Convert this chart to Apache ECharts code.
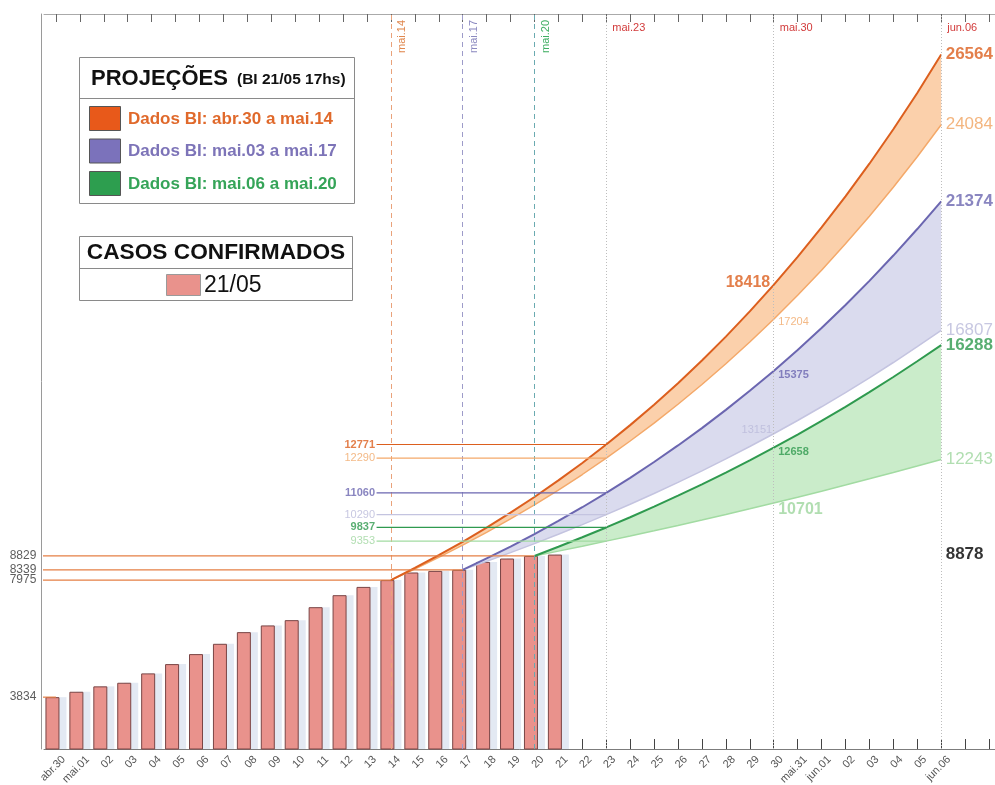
<!DOCTYPE html>
<html><head><meta charset="utf-8">
<script src="https://cdn.jsdelivr.net/npm/echarts@6/dist/echarts.min.js"></script>
<style>html,body{margin:0;padding:0;background:#fff}#c{width:995px;height:785px}</style>
</head><body><div id="c"></div>
<script>
// ---------------- DATA ----------------
const categories = ['abr.30','mai.01','02','03','04','05','06','07','08','09','10','11','12','13','14','15','16','17','18','19','20','21','22','23','24','25','26','27','28','29','30','mai.31','jun.01','02','03','04','05','jun.06','',''];
const confirmed = [3834, 4025, 4216, 4343, 4675, 5003, 5357, 5721, 6134, 6371, 6558, 7017, 7441, 7734, 7975, 8243, 8300, 8339, 8618, 8738, 8829, 8878];

const orangeStart = 14;
const orangeUpper = [7975, 8403, 8854, 9330, 9831, 10359, 10915, 11501, 12119, 12771, 13457, 14180, 14941, 15743, 16588, 17479, 18418, 19407, 20449, 21547, 22704, 23923, 25208, 26564];
const orangeLower = [7975, 8367, 8779, 9211, 9664, 10139, 10638, 11161, 11710, 12290, 12895, 13529, 14195, 14893, 15626, 16395, 17204, 18050, 18938, 19870, 20848, 21874, 22950, 24084];

const purpleStart = 17;
const purpleUpper = [8339, 8741, 9162, 9604, 10067, 10552, 11060, 11593, 12152, 12738, 13352, 13996, 14671, 15375, 16116, 16893, 17707, 18560, 19455, 20393, 21374];
const purpleLower = [8339, 8637, 8945, 9264, 9595, 9938, 10290, 10657, 11037, 11431, 11839, 12262, 12700, 13151, 13620, 14106, 14610, 15132, 15672, 16231, 16807];

const greenStart = 20;
const greenUpper = [8829, 9153, 9489, 9837, 10198, 10572, 10960, 11362, 11779, 12211, 12658, 13123, 13605, 14104, 14622, 15159, 15715, 16288];
const greenLower = [8829, 9000, 9175, 9353, 9534, 9719, 9908, 10100, 10296, 10496, 10701, 10909, 11121, 11337, 11557, 11781, 12010, 12243];

const refDay = 23, midDay = 30, endDay = 37;
const markerDays = [14, 17, 20];
const markerTexts = ['mai.14', 'mai.17', 'mai.20'];
const weekDays = [23, 30, 37];
const weekTexts = ['mai.23', 'mai.30', 'jun.06'];

// ---------------- STYLE ----------------
const FONT = '"Liberation Sans", Arial, Helvetica, sans-serif';
const N = categories.length;
const helperStartX = 13.4;   // where the mai.23 reference lines begin (axis units)
const axisEdgeX = -0.63;     // left axis position (axis units)

const bands = [
  {start: orangeStart, upper: orangeUpper, lower: orangeLower, cu:'#dc5f1e', cl:'#f4a96a', fill:'#fbd0ab',
   tu:'#dc5f1e', tl:'#f0a35f', tlSoft:'#f0a868'},
  {start: purpleStart, upper: purpleUpper, lower: purpleLower, cu:'#6b66b0', cl:'#c4c4e0', fill:'#dadbee',
   tu:'#6b66b0', tl:'#b9b9da', tlSoft:'#b9b9da'},
  {start: greenStart, upper: greenUpper, lower: greenLower, cu:'#2f9a4f', cl:'#a2dba2', fill:'#caecca',
   tu:'#2f9a4f', tl:'#9dd69d', tlSoft:'#9dd69d'}
];
const markerColors = ['#e9a27a', '#9d9bc9', '#6aaab0'];
const markerLabelColors = ['#e0874d', '#8c8ac0', '#3fae62'];

function pad(start, arr) { const out = new Array(N).fill('-'); arr.forEach((v, i) => { out[start + i] = v; }); return out; }
function at(b, day, which) { return b[which][day - b.start]; }

const series = [];

// bars
series.push({type:'bar', xAxisIndex:0, data: confirmed, barWidth:14, barGap:'-50%', z:3,
  itemStyle:{color:'#e9928c', borderColor:'#7a4545', borderWidth:1}});
series.push({type:'bar', xAxisIndex:0, data: confirmed, barWidth:14, barGap:'-50%', z:2,
  itemStyle:{color:'#e3e9f3'}});

// bands
bands.forEach((b, k) => {
  series.push({type:'line', xAxisIndex:0, stack:'band'+k, data: pad(b.start, b.lower), symbol:'none', z:4,
    lineStyle:{color:b.cl, width:1.5}});
  series.push({type:'line', xAxisIndex:0, stack:'band'+k, data: pad(b.start, b.upper.map((v, i) => v - b.lower[i])), symbol:'none', z:4,
    lineStyle:{color:b.cu, width:2}, areaStyle:{color:b.fill, opacity:1}});
});

// helper horizontal lines
function hline(x0, x1, y, color, width) {
  return {type:'line', xAxisIndex:1, data:[[x0, y], [x1, y]], symbol:'none', z:6, silent:true, clip:false,
    lineStyle:{color, width: width || 1.2}};
}
const vMarkers = [];
markerDays.forEach((d, i) => vMarkers.push({xAxis:d, lineStyle:{color:markerColors[i], type:[5,4], width:1},
  label:{show:true, formatter:markerTexts[i], position:'insideEndBottom', color:markerLabelColors[i], fontSize:11, fontFamily:FONT, distance:6}}));
weekDays.forEach((d, i) => vMarkers.push({xAxis:d, lineStyle:{color:'#bdbdbd', type:[1,2], width:1},
  label:{show:true, formatter:weekTexts[i], position:'end', color:'#d23b3b', fontSize:11, fontFamily:FONT,
    distance:[0,-8], align:'left', verticalAlign:'top', padding:[0,0,0,6]}}));

const tick = hline(axisEdgeX, 0, confirmed[0], '#e57f45');
tick.markLine = {symbol:['none','none'], silent:true, animation:false, data: vMarkers};
series.push(tick);
markerDays.forEach(d => series.push(hline(axisEdgeX, d, confirmed[d], '#e57f45')));
bands.forEach(b => {
  series.push(hline(helperStartX, refDay, at(b, refDay, 'upper'), b.cu));
  series.push(hline(helperStartX, refDay, at(b, refDay, 'lower'), b.cl));
});

// labels
function labelSeries(items) {
  return {type:'scatter', xAxisIndex:1, symbol:'circle', symbolSize:1, silent:true, z:10, clip:false,
    itemStyle:{color:'rgba(0,0,0,0)'},
    data: items.map(it => ({value:[it.x, it.y], label:{show:true, formatter:String(it.y), position:it.pos,
      distance: it.dist == null ? 3 : it.dist, offset: it.off || [0,0], color:it.color, fontSize:it.size,
      fontWeight: it.bold ? 'bold' : 'normal', fontFamily:FONT}}))};
}
const lbl = [];
// left axis labels
[0].concat(markerDays).forEach(d => lbl.push({x:axisEdgeX, y:confirmed[d], pos:'left', dist:4, color:'#333', size:12}));
// mai.23 reference labels
bands.forEach(b => {
  lbl.push({x:helperStartX, y:at(b, refDay, 'upper'), pos:'left', dist:1, color:b.tu, size:11, bold:true});
  lbl.push({x:helperStartX, y:at(b, refDay, 'lower'), pos:'left', dist:1, color:b.tlSoft, size:11});
});
// mai.30 labels
lbl.push({x:midDay, y:at(bands[0], midDay, 'upper'), pos:'left', dist:3, off:[0,-2], color:bands[0].tu, size:16, bold:true});
lbl.push({x:midDay, y:at(bands[0], midDay, 'lower'), pos:'right', dist:4, off:[0,3], color:bands[0].tlSoft, size:11});
lbl.push({x:midDay, y:at(bands[1], midDay, 'upper'), pos:'right', dist:4, off:[0,4], color:bands[1].tu, size:11, bold:true});
lbl.push({x:midDay, y:at(bands[1], midDay, 'lower'), pos:'left', dist:1, off:[0,-4], color:bands[1].tlSoft, size:11});
lbl.push({x:midDay, y:at(bands[2], midDay, 'upper'), pos:'right', dist:4, off:[0,4], color:bands[2].tu, size:11, bold:true});
lbl.push({x:midDay, y:at(bands[2], midDay, 'lower'), pos:'right', dist:4, off:[0,7], color:bands[2].tlSoft, size:16, bold:true});
// end labels
bands.forEach(b => {
  lbl.push({x:endDay, y:at(b, endDay, 'upper'), pos:'right', dist:4, color:b.tu, size:17, bold:true});
  lbl.push({x:endDay, y:at(b, endDay, 'lower'), pos:'right', dist:4, color:b.tl, size:17});
});
lbl.push({x:endDay, y:confirmed[confirmed.length - 1], pos:'right', dist:4, color:'#000', size:17, bold:true});
series.push(labelSeries(lbl));

// legend boxes (graphic)
const legendRows = [
  {text:'Dados BI: abr.30 a mai.14', sw:'#e8591a', color:'#e0692b'},
  {text:'Dados BI: mai.03 a mai.17', sw:'#7b72bb', color:'#7d74b8'},
  {text:'Dados BI: mai.06 a mai.20', sw:'#2d9e4f', color:'#35a458'}
];
const graphic = [
  {type:'rect', shape:{x:79.5, y:57.5, width:275, height:146}, style:{fill:'#fff', stroke:'#8a8a8a', lineWidth:1}, z:100},
  {type:'line', shape:{x1:79.5, y1:98.5, x2:354.5, y2:98.5}, style:{stroke:'#8a8a8a', lineWidth:1}, z:100},
  {type:'text', x:91, y:79, style:{text:'PROJEÇÕES', font:'bold 22px ' + FONT, fill:'#111', verticalAlign:'middle'}, z:101},
  {type:'text', x:237, y:80, style:{text:'(BI 21/05 17hs)', font:'bold 15.5px ' + FONT, fill:'#111', verticalAlign:'middle'}, z:101},
  {type:'rect', shape:{x:79.5, y:236.5, width:273, height:64}, style:{fill:'#fff', stroke:'#8a8a8a', lineWidth:1}, z:100},
  {type:'line', shape:{x1:79.5, y1:268.5, x2:352.5, y2:268.5}, style:{stroke:'#8a8a8a', lineWidth:1}, z:100},
  {type:'text', x:216, y:253, style:{text:'CASOS CONFIRMADOS', font:'bold 22.7px ' + FONT, fill:'#111', align:'center', verticalAlign:'middle'}, z:101},
  {type:'rect', shape:{x:166.5, y:274.5, width:34, height:21}, style:{fill:'#e9928c', stroke:'#9a9a9a', lineWidth:1}, z:101},
  {type:'text', x:204, y:286, style:{text:'21/05', font:'23px ' + FONT, fill:'#111', verticalAlign:'middle'}, z:101}
];
legendRows.forEach((r, i) => {
  graphic.push({type:'rect', shape:{x:89.5, y:106.5 + i*32.5, width:31, height:24}, style:{fill:r.sw, stroke:'#555', lineWidth:1}, z:101});
  graphic.push({type:'text', x:128, y:119 + i*32.5, style:{text:r.text, font:'bold 17px ' + FONT, fill:r.color, verticalAlign:'middle'}, z:101});
});

const option = {
  animation:false,
  textStyle:{fontFamily:FONT},
  grid:{left:44, top:14, width:957, height:735, containLabel:false, outerBoundsMode:'none'},
  xAxis:[
    {type:'category', data:categories, position:'bottom', boundaryGap:true,
      axisLine:{show:true, onZero:false, lineStyle:{color:'#7c7c7c', width:1}},
      axisTick:{show:true, inside:true, length:10, alignWithLabel:true, interval:0, lineStyle:{color:'#444'}},
      axisLabel:{interval:0, rotate:45, fontSize:11, color:'#555', margin:1, verticalAlign:'top', lineHeight:22, fontFamily:FONT},
      splitLine:{show:false}},
    {type:'value', min:-0.5, max:39.5, show:false},
    {type:'category', data:categories, position:'top', boundaryGap:true,
      axisLine:{show:true, onZero:false, lineStyle:{color:'#aaaaaa', width:1}},
      axisTick:{show:true, inside:true, length:8, alignWithLabel:true, interval:0, lineStyle:{color:'#666'}},
      axisLabel:{show:false}, splitLine:{show:false}}
  ],
  yAxis:{type:'value', min:2000, max:28000, offset:3,
    axisLine:{show:true, onZero:false, lineStyle:{color:'#9a9a9a'}}, axisTick:{show:false}, axisLabel:{show:false}, splitLine:{show:false}},
  series,
  graphic
};
const chart = echarts.init(document.getElementById('c'));
chart.setOption(option);
</script></body></html>
